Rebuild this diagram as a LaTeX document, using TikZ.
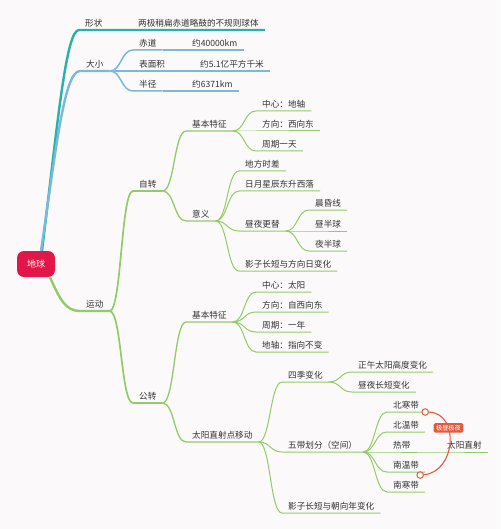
\documentclass[tikz,border=0pt]{standalone}
\usepackage{fontspec}
\setmainfont{Noto Sans CJK SC}
\usetikzlibrary{positioning}
\definecolor{ink}{RGB}{51,51,51}
\definecolor{teal1}{RGB}{38,178,166}
\definecolor{sky}{RGB}{122,184,222}
\definecolor{leaf}{RGB}{146,204,104}
\definecolor{rootred}{RGB}{226,22,72}
\definecolor{rel}{RGB}{228,88,60}
\definecolor{paper}{RGB}{251,249,250}

\begin{document}
\begin{tikzpicture}[x=1pt,y=-1pt,font=\fontsize{8.6}{10}\selectfont,
  t/.style={anchor=south west,inner xsep=6pt,inner ysep=2.4pt,text height=7.6pt,text depth=1.2pt,text=ink},
  lk/.style={to path={.. controls +(12,0) and +(-12,0) .. (\tikztotarget)}},
  b1/.style={line width=2.4pt},
  b2/.style={color=leaf,line width=1.7pt},
  b3/.style={color=leaf,line width=1.3pt},
  b4/.style={color=leaf,line width=1pt},
  dot/.style={circle,draw=rel,fill=white,line width=1pt,inner sep=0pt,minimum size=6.5pt},
  tag/.style={fill=rel,text=white,rounded corners=1.5pt,font=\fontsize{6.2}{7}\selectfont,inner xsep=2.5pt,inner ysep=1.8pt}]
  \fill[paper] (0,0) rectangle (500,529);
  \useasboundingbox (0,0) rectangle (500,529);
  \node[fill=rootred,text=white,rounded corners=7pt,minimum width=38pt,minimum height=26pt,inner sep=0pt,font=\fontsize{9}{10}\selectfont] (dq) at (36,264) {地球};
  \node[t] (xz) at (79,30) {形状};
  \node[t] (xzd) at (132,30) {两极稍扁赤道略鼓的不规则球体};
  \node[t] (dx) at (80,71) {大小};
  \node[t] (cd) at (133,50) {赤道};
  \node[t] (cdz) at (186,50) {约40000km};
  \node[t] (bmj) at (133,71) {表面积};
  \node[t] (bmjz) at (194,71) {约5.1亿平方千米};
  \node[t] (bj) at (133,91) {半径};
  \node[t] (bjz) at (186,91) {约6371km};
  \node[t] (yd) at (80,311) {运动};
  \node[t] (zz) at (133,191) {自转};
  \node[t] (zjb) at (186,131) {基本特征};
  \node[t] (zx1) at (256,111) {中心：地轴};
  \node[t] (fx1) at (256,131) {方向：西向东};
  \node[t] (zq1) at (256,151) {周期一天};
  \node[t] (yy) at (186,221) {意义};
  \node[t] (dfs) at (239,171) {地方时差};
  \node[t] (rys) at (239,191) {日月星辰东升西落};
  \node[t] (zygt) at (239,231) {昼夜更替};
  \node[t] (chx) at (309,210) {晨昏线};
  \node[t] (zbq) at (309,231) {昼半球};
  \node[t] (ybq) at (309,251) {夜半球};
  \node[t] (yzr) at (239,271) {影子长短与方向日变化};
  \node[t] (gz) at (133,403) {公转};
  \node[t] (gjb) at (186,322) {基本特征};
  \node[t] (zx2) at (256,292) {中心：太阳};
  \node[t] (fx2) at (256,312) {方向：自西向东};
  \node[t] (zq2) at (256,332) {周期：一年};
  \node[t] (dz2) at (256,352) {地轴：指向不变};
  \node[t] (zsd) at (186,442) {太阳直射点移动};
  \node[t] (sjbh) at (282,382) {四季变化};
  \node[t] (zwg) at (352,372) {正午太阳高度变化};
  \node[t] (zyc) at (352,392) {昼夜长短变化};
  \node[t] (wdhf) at (282,452) {五带划分（空间）};
  \node[t] (bhd) at (387,412) {北寒带};
  \node[t] (bwd) at (387,432) {北温带};
  \node[t] (rd) at (387,452) {热带};
  \node[t] (tyzs) at (441,452) {太阳直射};
  \node[t] (nwd) at (387,472) {南温带};
  \node[t] (nhd) at (387,492) {南寒带};
  \node[t] (yzn) at (282,513) {影子长短与朝向年变化};
  \draw[b1,teal1] ([xshift=6pt]dq.north) .. controls (58,120) and (66,30) .. (xz.south west) -- (xz.south east) -- (xzd.south west) -- (xzd.south east);
  \draw[b1,sky] ([xshift=5pt]dq.north) .. controls (56,150) and (64,71) .. (dx.south west) -- (dx.south east);
  \draw[b1,leaf] ([xshift=14pt]dq.south) .. controls (60,300) and (66,311) .. (yd.south west) -- (yd.south east);
  \foreach \j in {cd,bmj,bj} \draw[sky,line width=1.5pt] (dx.south east) to[lk] (\j.south west) -- (\j.south east);
  \foreach \i/\j in {cd/cdz,bmj/bmjz,bj/bjz} \draw[sky,line width=1.5pt] (\i.south east) -- (\j.south west) -- (\j.south east);
  \foreach \j in {zz,gz} \draw[b2] (yd.south east) to[lk] (\j.south west) -- (\j.south east);
  \foreach \i/\j in {zz/zjb,zz/yy,gz/gjb,gz/zsd} \draw[b3] (\i.south east) to[lk] (\j.south west) -- (\j.south east);
  \foreach \i/\j in {zjb/zx1,zjb/fx1,zjb/zq1,yy/dfs,yy/rys,yy/zygt,yy/yzr,zygt/chx,zygt/zbq,zygt/ybq,gjb/zx2,gjb/fx2,gjb/zq2,gjb/dz2,zsd/sjbh,zsd/wdhf,zsd/yzn,sjbh/zwg,sjbh/zyc,wdhf/bhd,wdhf/bwd,wdhf/rd,wdhf/nwd,wdhf/nhd,rd/tyzs}
    \draw[b4] (\i.south east) to[lk] (\j.south west) -- (\j.south east);
  \node[dot] (c1) at (bhd.south east) {};
  \node[dot] (c2) at ([xshift=-5pt,yshift=-3pt]nwd.south east) {};
  \draw[rel,line width=1.1pt] (c1) .. controls (460,413) and (456,472) .. node[tag,pos=0.33] (jz) {极昼极夜} (c2);
\end{tikzpicture}
\end{document}
